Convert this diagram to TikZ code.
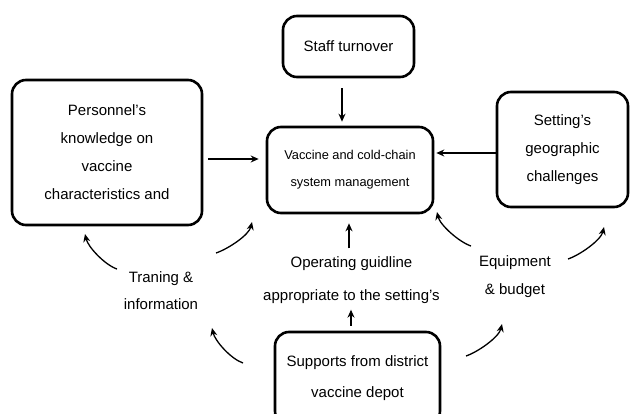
\documentclass[tikz,border=0pt]{standalone}
\usepackage{fontspec}
\setmainfont{Liberation Sans}
\usetikzlibrary{arrows.meta}

\tikzset{
  box/.style={draw, line width=2.6pt, rounded corners=14pt, align=center, inner sep=0pt},
  lbl/.style={align=center, inner sep=0pt},
  link/.style={-{Stealth[length=8pt, width=7pt]}, line width=1.3pt},
}

\begin{document}
\begin{tikzpicture}[x=1pt, y=-1pt, font=\fontsize{15}{28}\selectfont]
	\useasboundingbox (0,0) rectangle (630,414);

	% boxes
	\node[box, minimum width=131pt, minimum height=61pt] (staff) at (348.5,46.5) {Staff turnover};
	\node[box, minimum width=166pt, minimum height=86pt, font=\fontsize{12.8}{27}\selectfont] (centre) at (350,170) {Vaccine and cold-chain\\system management};
	\node[box, minimum width=190pt, minimum height=145pt] (pers) at (107,152.5) {Personnel’s\\knowledge on\\vaccine\\characteristics and};
	\node[box, minimum width=131pt, minimum height=115pt] (geo) at (562.5,149.5) {Setting’s\\geographic\\challenges};
	\node[box, minimum width=165pt, minimum height=93pt, font=\fontsize{15}{31}\selectfont] (depot) at (357.5,378.5) {Supports from district\\vaccine depot};

	% labels
	\node[lbl, font=\fontsize{15}{33}\selectfont] (guide) at (351.5,280) {Operating guidline\\appropriate to the setting’s};
	\node[lbl, font=\fontsize{15}{27}\selectfont] (train) at (161,290.5) {Traning \&\\information};
	\node[lbl] (equip) at (515,277) {Equipment\\\& budget};

	% straight links
	\draw[link, shorten <=10pt, shorten >=4pt] ([xshift=-6.5pt]staff.south) -- ([xshift=-8pt]centre.north);
	\draw[link, shorten <=5pt, shorten >=7pt] ([yshift=-6.5pt]pers.east) -- ([yshift=-6.5pt]pers.east -| centre.west);
	\draw[link, shorten >=2pt] ([yshift=-3.5pt]geo.west) -- ([yshift=-3.5pt]geo.west -| centre.east);
	\draw[link, shorten <=8pt, shorten >=9pt] ([xshift=-2.5pt]guide.north) -- ([xshift=-2.5pt]guide.north |- centre.south);
	\draw[link, shorten <=5pt, shorten >=6pt] ([xshift=-6.5pt]depot.north) -- ([xshift=-6.5pt]depot.north |- guide.south);

	% curved links
	\coordinate (tr1) at (117,269);  \coordinate (pe1) at (85,234);
	\coordinate (tr2) at (216,253);  \coordinate (ce1) at (252,222);
	\coordinate (de1) at (243,363);  \coordinate (tr3) at (212,328);
	\coordinate (eq1) at (471,246);  \coordinate (ce2) at (437,212);
	\coordinate (eq2) at (568,259);  \coordinate (ge1) at (604,227);
	\coordinate (de2) at (466,356);  \coordinate (eq3) at (502,324);

	\draw[link] (tr1) .. controls (105,265) and (88,247) .. (pe1);
	\draw[link] (tr2) .. controls (228,249) and (249,235) .. (ce1);
	\draw[link] (de1) .. controls (231,359) and (215,341) .. (tr3);
	\draw[link] (eq1) .. controls (459,242) and (440,225) .. (ce2);
	\draw[link] (eq2) .. controls (580,255) and (601,240) .. (ge1);
	\draw[link] (de2) .. controls (478,352) and (499,337) .. (eq3);
\end{tikzpicture}
\end{document}
